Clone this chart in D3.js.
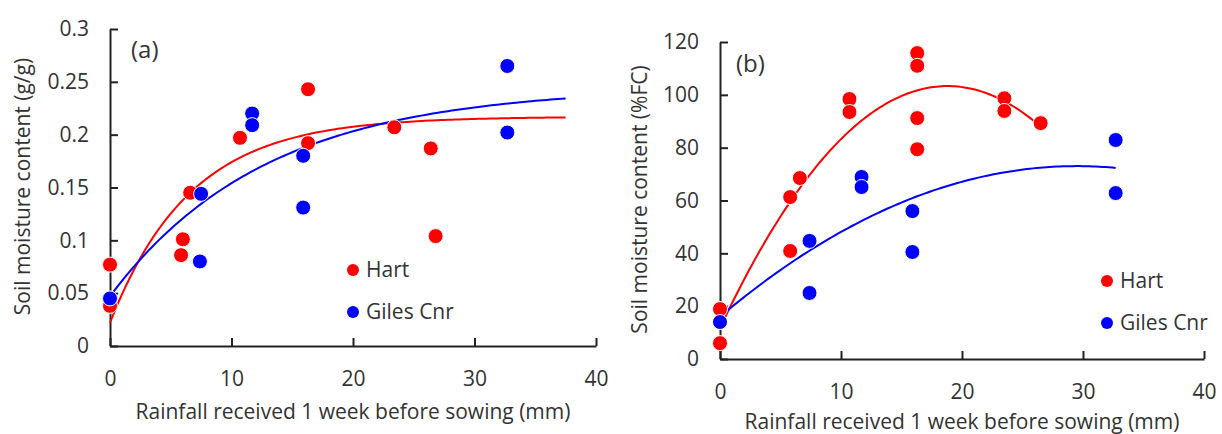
<!DOCTYPE html>
<html>
<head>
<meta charset="utf-8">
<script src="https://cdn.jsdelivr.net/npm/d3@7"></script>
<style>
  body { margin: 0; background: #fff; }
  text { font-family: "Open Sans", sans-serif; fill: #333; }
</style>
</head>
<body>
<script>
// soil moisture vs rainfall, two panels
const width = 1222, height = 434

const xTicks = [0, 10, 20, 30, 40]
const yTicksA = [0, 0.05, 0.1, 0.15, 0.2, 0.25, 0.3]
const yTicksB = [0, 20, 40, 60, 80, 100, 120]
const seriesNames = ["Hart", "Giles Cnr"]
const seriesColors = ["#ff0000", "#0000ff"]

// panel (a): g/g
const hartRainA = [0, 0, 6.0, 5.85, 6.6, 10.7, 16.3, 16.3, 23.4, 26.4, 26.8]
const hartMoistA = [0.077, 0.038, 0.101, 0.086, 0.145, 0.197, 0.243, 0.192, 0.207, 0.187, 0.104]
const gilesRainA = [0, 7.5, 7.4, 11.7, 11.7, 15.9, 15.9, 32.7, 32.7]
const gilesMoistA = [0.045, 0.144, 0.080, 0.220, 0.209, 0.180, 0.131, 0.265, 0.202]

// panel (b): %FC
const hartRainB = [0, 0, 5.8, 6.6, 5.8, 10.7, 10.7, 16.3, 16.3, 16.3, 16.3, 23.5, 23.5, 26.5]
const hartMoistB = [18.9, 6.0, 61.3, 68.5, 40.9, 98.4, 93.5, 115.8, 111.0, 91.2, 79.4, 98.7, 93.9, 89.3]
const gilesRainB = [0, 7.4, 7.4, 11.7, 11.7, 15.9, 15.9, 32.7, 32.7]
const gilesMoistB = [14.0, 44.7, 25.0, 68.9, 65.1, 56.0, 40.5, 82.9, 62.8]

// fitted curves
// (a) y = a - b*exp(-k*x), (b) y = c0 + c1*x + c2*x^2 ; [coefs..., xEnd]
const fitHartA = [0.217, 0.195, 0.151, 37.5]
const fitGilesA = [0.245, 0.198, 0.0778, 37.5]
const fitHartB = [11.7, 9.746, -0.2592, 26.5]
const fitGilesB = [16, 3.865, -0.0655, 32.7]

const expFit = p => x => p[0] - p[1] * Math.exp(-p[2] * x)
const quadFit = p => x => p[0] + p[1] * x + p[2] * x * x

const fontSize = "21px"

const svg = d3.select("body")
    .append("svg")
      .attr("width", width)
      .attr("height", height)

const panels = [
  {
    label: "(a)",
    xRange: [110, 596], yRange: [346, 29],
    yDomain: [0, 0.3], yTicks: yTicksA,
    yTitle: "Soil moisture content (g/g)",
    pts: [[hartRainA, hartMoistA], [gilesRainA, gilesMoistA]],
    fits: [expFit(fitHartA), expFit(fitGilesA)], fitEnd: [fitHartA[3], fitGilesA[3]],
    labelPos: [131, 58], legendPos: [353, 270], yTitleX: 23, xTitleY: 419, tickY: 386
  },
  {
    label: "(b)",
    xRange: [720, 1204], yRange: [359, 42],
    yDomain: [0, 120], yTicks: yTicksB,
    yTitle: "Soil moisture content (%FC)",
    pts: [[hartRainB, hartMoistB], [gilesRainB, gilesMoistB]],
    fits: [quadFit(fitHartB), quadFit(fitGilesB)], fitEnd: [fitHartB[3], fitGilesB[3]],
    labelPos: [736, 72], legendPos: [1107, 281], yTitleX: 640, xTitleY: 429, tickY: 399
  }
]

panels.forEach(function(p){
  const x = d3.scaleLinear().domain([0, 40]).range(p.xRange)
  const y = d3.scaleLinear().domain(p.yDomain).range(p.yRange)
  const g = svg.append("g")

  // axes, ticks inside
  const yAxis = g.append("g")
      .attr("transform", "translate(" + p.xRange[0] + ",0)")
      .call(d3.axisLeft(y).tickValues(p.yTicks).tickFormat(d => d)
        .tickSizeInner(-8).tickSizeOuter(0).tickPadding(21))
  const xAxis = g.append("g")
      .attr("transform", "translate(0," + p.yRange[0] + ")")
      .call(d3.axisBottom(x).tickValues(xTicks)
        .tickSizeInner(-8).tickSizeOuter(0).tickPadding(0))
  ;[yAxis, xAxis].forEach(function(a){
    a.select(".domain").attr("stroke", "#222").attr("stroke-width", 2)
    a.selectAll(".tick line").attr("stroke", "#222").attr("stroke-width", 2)
    a.selectAll(".tick text").style("font-size", fontSize).style("font-family", "'Open Sans', sans-serif").attr("fill", "#333")
  })
  xAxis.selectAll(".tick text").attr("y", p.tickY - p.yRange[0]).attr("dy", null)

  // fitted curves
  p.fits.forEach(function(f, i){
    const xs = d3.range(0, p.fitEnd[i] + 0.001, p.fitEnd[i] / 120)
    g.append("path")
        .datum(xs)
        .attr("fill", "none")
        .attr("stroke", seriesColors[i])
        .attr("stroke-width", 2)
        .attr("d", d3.line().x(d => x(d)).y(d => y(f(d))))
  })

  // points
  p.pts.forEach(function(s, i){
    g.selectAll(".pt" + i)
      .data(s[0])
      .enter()
      .append("circle")
        .attr("cx", d => x(d))
        .attr("cy", (d, j) => y(s[1][j]))
        .attr("r", 7.5)
        .style("fill", seriesColors[i])
        .style("stroke", "#fff")
        .style("stroke-width", 1)
  })

  // panel label
  g.append("text")
      .attr("x", p.labelPos[0])
      .attr("y", p.labelPos[1])
      .style("font-size", "24px")
      .text(p.label)

  // legend
  const leg = g.selectAll(".leg")
      .data(seriesNames)
      .enter()
      .append("g")
        .attr("transform", (d, i) => "translate(" + p.legendPos[0] + "," + (p.legendPos[1] + i * 42) + ")")
  leg.append("circle")
      .attr("r", 6)
      .style("fill", (d, i) => seriesColors[i])
  leg.append("text")
      .attr("x", 13)
      .attr("dy", "0.35em")
      .style("font-size", fontSize)
      .text(d => d)

  // axis titles
  g.append("text")
      .attr("text-anchor", "middle")
      .attr("x", (p.xRange[0] + p.xRange[1]) / 2)
      .attr("y", p.xTitleY)
      .style("font-size", fontSize)
      .text("Rainfall received 1 week before sowing (mm)")
  g.append("text")
      .attr("text-anchor", "middle")
      .attr("transform", "translate(" + p.yTitleX + "," + ((p.yRange[0] + p.yRange[1]) / 2 - 1) + ") rotate(-90)")
      .attr("dy", "0.35em")
      .style("font-size", fontSize)
      .text(p.yTitle)
})
</script>
</body>
</html>
